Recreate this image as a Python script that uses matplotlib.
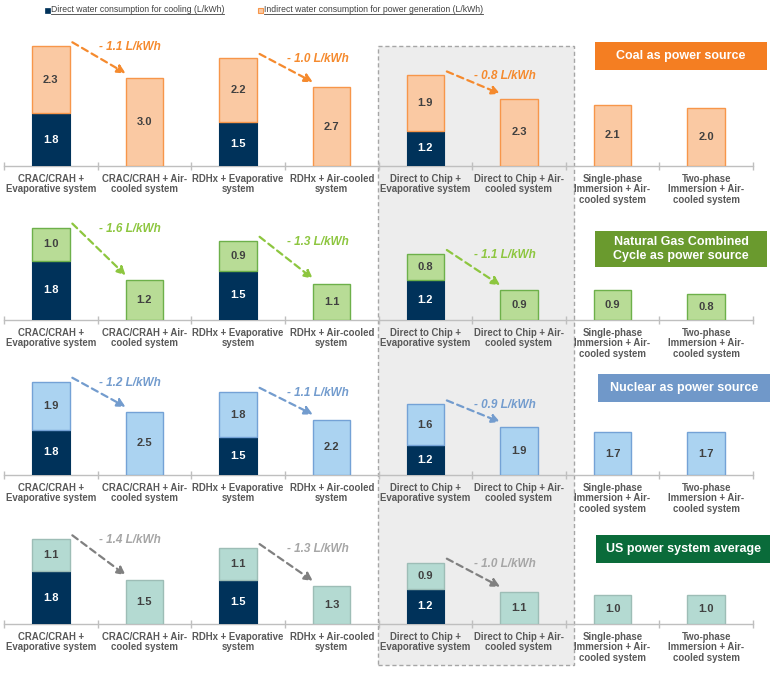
import numpy as np
import matplotlib.pyplot as plt
from matplotlib.patches import Rectangle

plt.rcParams['font.family'] = ['Liberation Sans', 'DejaVu Sans']

W, H = 780, 681

categories = ["CRAC/CRAH +\nEvaporative system", "CRAC/CRAH + Air-\ncooled system",
              "RDHx + Evaporative\nsystem", "RDHx + Air-cooled\nsystem",
              "Direct to Chip +\nEvaporative system", "Direct to Chip + Air-\ncooled system",
              "Single-phase\nImmersion + Air-\ncooled system", "Two-phase\nImmersion + Air-\ncooled system"]
direct = [1.8, 0, 1.5, 0, 1.2, 0, 0, 0]
coal = [2.3, 3.0, 2.2, 2.7, 1.9, 2.3, 2.1, 2.0]
gas = [1.0, 1.2, 0.9, 1.1, 0.8, 0.9, 0.9, 0.8]
nuclear = [1.9, 2.5, 1.8, 2.2, 1.6, 1.9, 1.7, 1.7]
us_avg = [1.1, 1.5, 1.1, 1.3, 0.9, 1.1, 1.0, 1.0]
coal_drop = [1.1, 1.0, 0.8]
gas_drop = [1.6, 1.3, 1.1]
nuclear_drop = [1.2, 1.1, 0.9]
us_drop = [1.4, 1.3, 1.0]

navy = "#00325A"
grey_txt = "#404040"

# panel settings: indirect values, drops, fill, edge, note color, arrow color, box color, title,
# baseline px, px per unit, title box px (left, top, right, bottom)
panels = [
    (coal, coal_drop, "#FAC9A3", "#F7964A", "#F58A2E", "#F58A2E", "#F47E22",
     "Coal as power source", 166, 29.2, (595, 42, 767, 70)),
    (gas, gas_drop, "#B8DC96", "#6DB04A", "#8DC63F", "#8DC63F", "#6A9A2E",
     "Natural Gas Combined\nCycle as power source", 320, 33.0, (595, 231, 767, 267)),
    (nuclear, nuclear_drop, "#ABD3F1", "#74A2D6", "#739CCE", "#739CCE", "#7098C9",
     "Nuclear as power source", 475, 25.2, (598, 374, 770, 402)),
    (us_avg, us_drop, "#B4DAD2", "#9DBDB6", "#A6A6A6", "#808080", "#0A6B3A",
     "US power system average", 624, 29.2, (596, 535, 770, 563)),
]


def fig_box(left, top, right, bottom):
    return [left / W, 1 - bottom / H, (right - left) / W, (bottom - top) / H]


fig = plt.figure(figsize=(W / 100, H / 100), dpi=100)

# grey highlight around the direct-to-chip columns
hl = Rectangle((378 / W, 1 - 665 / H), (574 - 378) / W, (665 - 46) / H, transform=fig.transFigure,
               facecolor="#EDEDED", edgecolor="#A6A6A6", ls=(0, (3, 2)), lw=1.0, zorder=-1)
fig.add_artist(hl)

x = np.arange(len(categories))
bw = 0.4
for indirect, drops, fill, edge, note_c, arrow_c, box_c, title, base, scale, tbox in panels:
    hpx = 140
    ax = fig.add_axes(fig_box(4, base - hpx, 753, base))
    ax.set_facecolor("none")
    ax.set_xlim(-0.5, 7.5)
    ax.set_ylim(0, hpx / scale)
    totals = [d + v for d, v in zip(direct, indirect)]

    ax.bar(x, direct, bw, color=navy, edgecolor=navy, lw=0.8, zorder=3)
    ax.bar(x, indirect, bw, bottom=direct, color=fill, edgecolor=edge, lw=1.0, zorder=3)
    for i in x:
        if direct[i] > 0:
            ax.text(i, direct[i] / 2, f"{direct[i]:.1f}", ha="center", va="center",
                    color="white", fontsize=8, fontweight="bold", zorder=4)
        ax.text(i, direct[i] + indirect[i] / 2, f"{indirect[i]:.1f}", ha="center", va="center",
                color=grey_txt, fontsize=8, fontweight="bold", zorder=4)

    # reduction arrows between evaporative and air-cooled pairs
    for k, i in enumerate([0, 2, 4]):
        ax.annotate("", xy=(i + 1 - bw / 2, totals[i + 1] + 5 / scale),
                    xytext=(i + bw / 2 + 0.03, totals[i] + 4 / scale),
                    arrowprops=dict(arrowstyle="-|>,head_length=0.5,head_width=0.25", color=arrow_c,
                                    lw=1.6, ls=(0, (3, 2)), shrinkA=0, shrinkB=0),
                    annotation_clip=False, zorder=5)
        ax.text(i + 0.52, totals[i] - 1 / scale, f"- {drops[k]:.1f} L/kWh", ha="left", va="center",
                color=note_c, fontsize=8.5, fontweight="bold", style="italic", clip_on=False)

    for s in ["top", "left", "right"]:
        ax.spines[s].set_visible(False)
    ax.spines["bottom"].set_color("#BFBFBF")
    ax.spines["bottom"].set_linewidth(1.0)
    ax.set_yticks([])
    ax.set_xticks(np.arange(-0.5, 8, 1))
    ax.set_xticklabels([])
    ax.tick_params(axis="x", which="major", direction="inout", length=6, color="#BFBFBF", width=1)
    ax.set_xticks(x, minor=True)
    ax.set_xticklabels(categories, minor=True)
    ax.tick_params(axis="x", which="minor", length=0, pad=5.5, labelsize=6.9, labelcolor="#595959")
    for t in ax.get_xticklabels(minor=True):
        t.set_fontweight("bold")
        t.set_linespacing(1.1)

    # title box on the right
    l, t_, r, b = tbox
    fig.add_artist(Rectangle((l / W, 1 - b / H), (r - l) / W, (b - t_) / H, transform=fig.transFigure,
                             facecolor=box_c, edgecolor="none", zorder=6))
    fig.text((l + r) / 2 / W, 1 - (t_ + b) / 2 / H, title, ha="center", va="center", color="white",
             fontsize=9, fontweight="bold", linespacing=1.15, zorder=7)

# legend at the top
fig.add_artist(Rectangle((45 / W, 1 - 13 / H), 5 / W, 5 / H, transform=fig.transFigure,
                         facecolor=navy, edgecolor=navy, lw=0.5))
fig.add_artist(Rectangle((258 / W, 1 - 13 / H), 5 / W, 5 / H, transform=fig.transFigure,
                         facecolor="#FAC9A3", edgecolor="#F7964A", lw=0.8))
leg_texts = [fig.text(51 / W, 1 - 10 / H, "Direct water consumption for cooling (L/kWh)",
                      ha="left", va="center", fontsize=6.2, color=grey_txt),
             fig.text(264 / W, 1 - 10 / H, "Indirect water consumption for power generation (L/kWh)",
                      ha="left", va="center", fontsize=6.2, color=grey_txt)]
renderer = fig.canvas.get_renderer()
for t in leg_texts:
    bb = t.get_window_extent(renderer).transformed(fig.transFigure.inverted())
    fig.add_artist(plt.Line2D([bb.x0, bb.x1], [bb.y0 + 0.001, bb.y0 + 0.001], transform=fig.transFigure,
                              color=grey_txt, lw=0.6))

fig.savefig("out.png", dpi=100)
